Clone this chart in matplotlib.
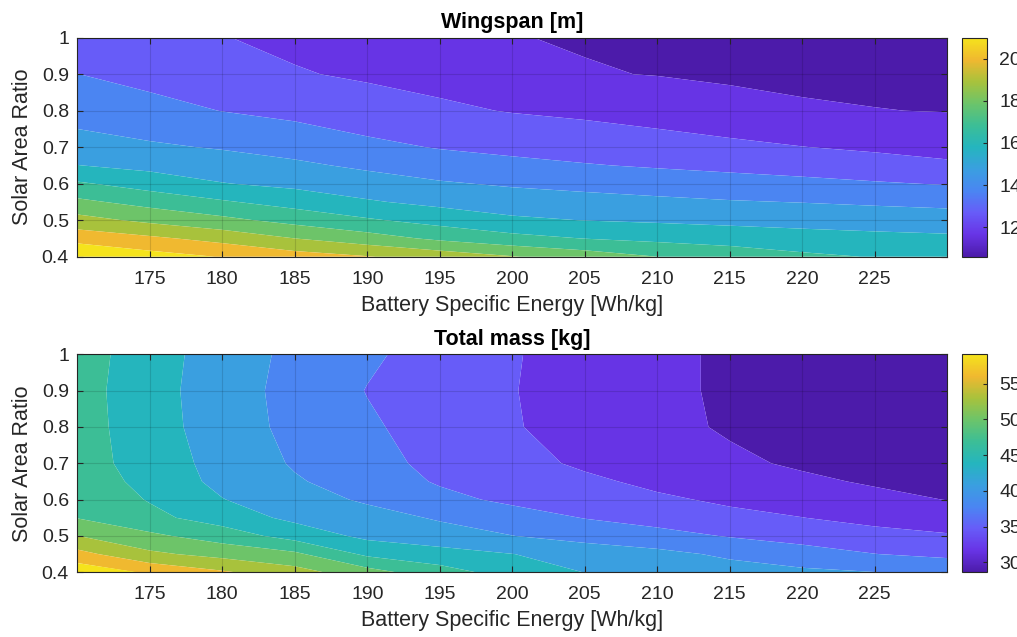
import numpy as np
import matplotlib
matplotlib.use("Agg")
import matplotlib.pyplot as plt
from matplotlib.colors import LinearSegmentedColormap, Normalize
import matplotlib.cm as cm

plt.rcParams['font.family'] = ['Liberation Sans', 'DejaVu Sans']

# ---------------- data ----------------
energy = [170, 175, 180, 185, 190, 195, 200, 205, 210, 215, 220, 225, 230]
ratio = [0.40, 0.45, 0.50, 0.55, 0.60, 0.65, 0.70, 0.80, 0.90, 1.00]

wingspan = [
    [21.0, 20.4, 19.95, 19.45, 19.05, 18.6, 18.05, 17.55, 17.0, 16.6, 16.2, 15.95, 15.8],
    [19.63, 19.19, 18.67, 18.0, 17.44, 16.8, 16.32, 15.98, 15.75, 15.58, 15.38, 15.27, 15.18],
    [18.36, 17.77, 17.25, 16.67, 16.12, 15.63, 15.17, 14.98, 14.87, 14.75, 14.67, 14.57, 14.49],
    [17.22, 16.64, 16.11, 15.6, 15.1, 14.74, 14.49, 14.35, 14.21, 14.07, 13.97, 13.85, 13.73],
    [16.13, 15.57, 15.04, 14.76, 14.44, 14.10, 13.88, 13.71, 13.54, 13.38, 13.25, 13.09, 12.94],
    [15.02, 14.72, 14.47, 14.18, 13.82, 13.5, 13.25, 13.06, 12.90, 12.76, 12.60, 12.41, 12.16],
    [14.40, 14.14, 13.92, 13.63, 13.24, 12.94, 12.75, 12.59, 12.41, 12.22, 12.02, 11.84, 11.68],
    [13.60, 13.30, 12.98, 12.74, 12.43, 12.16, 11.95, 11.80, 11.60, 11.35, 11.10, 11.02, 10.97],
    [13.01, 12.71, 12.50, 12.07, 11.87, 11.70, 11.40, 11.06, 10.97, 10.85, 10.83, 10.81, 10.79],
    [12.5, 12.25, 12.03, 11.8, 11.55, 11.33, 11.03, 10.93, 10.85, 10.78, 10.72, 10.66, 10.6],
]

total_mass = [
    [59.1, 56.5, 54.4, 52.2, 49.2, 46.2, 43.8, 41.95, 41.0, 40.2, 39.6, 39.05, 38.5],
    [55.0, 51.6, 50.0, 48.6, 44.4, 43.2, 42.05, 40.8, 39.8, 38.5, 37.2, 36.05, 35.3],
    [51.05, 48.6, 46.6, 43.8, 41.3, 40.2, 39.05, 37.9, 37.05, 35.8, 34.9, 34.05, 33.3],
    [47.9, 45.8, 43.6, 41.3, 40.1, 38.7, 37.3, 35.9, 34.8, 33.8, 33.05, 32.05, 31.35],
    [47.2, 44.8, 42.1, 40.2, 38.6, 36.8, 35.4, 34.4, 33.5, 32.5, 31.5, 30.6, 29.95],
    [46.8, 44.05, 41.2, 39.3, 37.6, 35.7, 34.6, 33.6, 32.3, 31.4, 30.4, 29.75, 29.4],
    [46.5, 43.5, 41.05, 38.7, 36.9, 35.3, 34.05, 32.5, 31.6, 30.4, 29.7, 29.35, 29.1],
    [46.3, 43.3, 40.5, 38.2, 36.4, 34.8, 33.2, 31.95, 30.6, 29.75, 29.45, 29.2, 29.0],
    [46.2, 43.2, 40.35, 38.05, 35.9, 34.6, 33.1, 31.9, 30.6, 29.6, 29.25, 28.9, 28.65],
    [46.4, 43.35, 40.55, 38.28, 36.47, 34.81, 33.19, 31.92, 30.6, 29.6, 29.25, 28.9, 28.6],
]

wing_levels = [11, 12, 13, 14, 15, 16, 17, 18, 19, 20]
mass_levels = [30, 33, 36, 39, 42, 45, 48, 51, 54, 57]
wing_cticks = [12, 14, 16, 18, 20]
mass_cticks = [30, 35, 40, 45, 50, 55]
x_ticks = [175, 180, 185, 190, 195, 200, 205, 210, 215, 220, 225]
y_ticks = [0.4, 0.5, 0.6, 0.7, 0.8, 0.9, 1.0]
y_tick_labels = ['0.4', '0.5', '0.6', '0.7', '0.8', '0.9', '1']
titles = ['Wingspan [m]', 'Total mass [kg]']
xlabel = 'Battery Specific Energy [Wh/kg]'
ylabel = 'Solar Area Ratio'

# ---------------- style ----------------
anchors = [
    (0.00, '#4c1baa'),
    (0.10, '#6834e6'),
    (0.20, '#675cf8'),
    (0.30, '#4a86f2'),
    (0.40, '#3a9fe0'),
    (0.50, '#25b5be'),
    (0.60, '#3cbe96'),
    (0.70, '#6cc46a'),
    (0.80, '#a8c23c'),
    (0.90, '#f0b830'),
    (1.00, '#f5e31c'),
]
cmap = LinearSegmentedColormap.from_list('parula_like', anchors, N=256)

W, H = 1017, 637
fig = plt.figure(figsize=(W / 100, H / 100), dpi=100)
fig.patch.set_facecolor('white')

def rect(x0, y0, x1, y1):
    return [x0 / W, 1 - y1 / H, (x1 - x0) / W, (y1 - y0) / H]

txt_col = '#262626'
E = np.array(energy)
R = np.array(ratio)

panels = [
    (np.array(wingspan), wing_levels, wing_cticks, titles[0],
     rect(77.3, 37.7, 947.3, 256.7), rect(961.7, 37.7, 986.7, 256.7)),
    (np.array(total_mass), mass_levels, mass_cticks, titles[1],
     rect(77.3, 354.3, 947.3, 572.3), rect(961.7, 354.3, 986.7, 572.3)),
]

for Z, levels, cticks, title, arect, crect in panels:
    ax = fig.add_axes(arect)
    zmin, zmax = float(Z.min()), float(Z.max())
    norm = Normalize(vmin=zmin, vmax=zmax)
    lv = [zmin - 1e-6] + list(levels) + [zmax + 1e-6]
    nb = len(lv) - 1
    band_colors = [cmap(i / (nb - 1)) for i in range(nb)]
    ax.contourf(E, R, Z, levels=lv, colors=band_colors, antialiased=True)
    ax.set_xlim(170, 230)
    ax.set_ylim(0.4, 1.0)
    ax.set_xticks(x_ticks)
    ax.set_yticks(y_ticks)
    ax.set_yticklabels(y_tick_labels)
    ax.tick_params(direction='in', length=4, width=0.8, colors=txt_col,
                   labelsize=14, top=True, right=True)
    ax.tick_params(axis='x', pad=10)
    ax.tick_params(axis='y', pad=6)
    ax.set_axisbelow(False)
    ax.grid(True, color='black', alpha=0.13, linewidth=0.8)
    for s in ax.spines.values():
        s.set_color(txt_col)
        s.set_linewidth(0.8)
    ax.set_title(title, fontsize=15.5, fontweight='bold', color='black', pad=7)
    ax.set_xlabel(xlabel, fontsize=15.5, color=txt_col)
    ax.set_ylabel(ylabel, fontsize=15.5, color=txt_col)
    ax.xaxis.set_label_coords(0.5, -0.175)
    ax.yaxis.set_label_coords(-0.051, 0.5)

    cax = fig.add_axes(crect)
    sm = cm.ScalarMappable(norm=norm, cmap=cmap)
    cb = fig.colorbar(sm, cax=cax)
    cb.set_ticks(cticks)
    cb.ax.tick_params(direction='in', length=3, width=0.8, colors=txt_col,
                      labelsize=14, pad=9)
    cb.outline.set_edgecolor(txt_col)
    cb.outline.set_linewidth(0.8)

fig.savefig('out.png', dpi=100, facecolor='white')
